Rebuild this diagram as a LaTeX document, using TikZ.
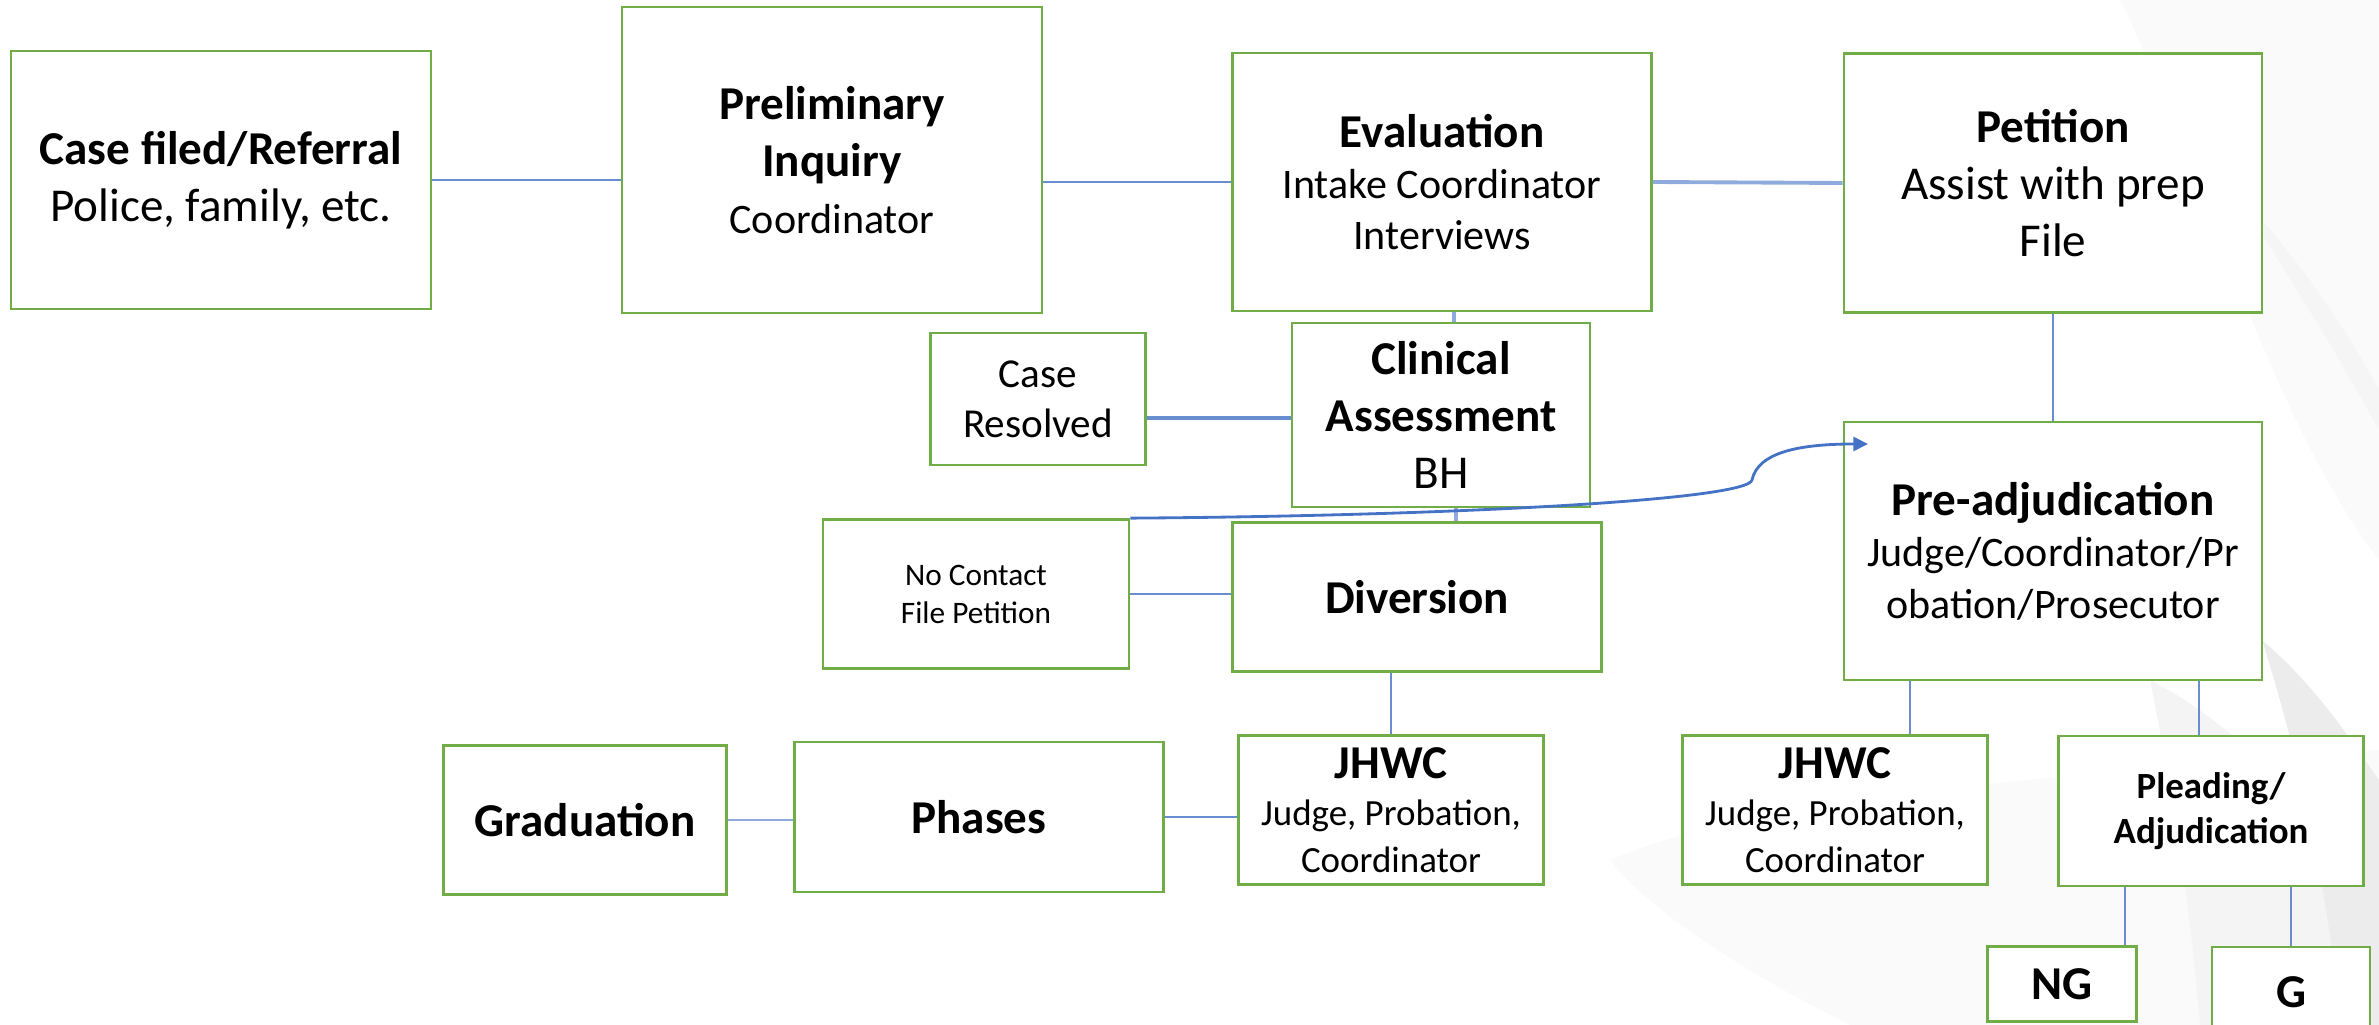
\documentclass[tikz,border=0pt]{standalone}
\usepackage{fontspec}
\setmainfont{Carlito}
\usepackage{tikz}
\usetikzlibrary{arrows.meta}
\definecolor{boxgreen}{HTML}{70AD47}
\definecolor{linkblue}{HTML}{4472C4}
\definecolor{paleblue}{HTML}{8FAADC}
\newcommand{\bigsz}{\fontsize{13.4}{16.2}\selectfont}
\newcommand{\midsz}{\fontsize{11.95}{14.6}\selectfont}
\newcommand{\smlsz}{\fontsize{10.5}{13.4}\selectfont}
\newcommand{\tinysz}{\fontsize{8.9}{10.8}\selectfont}

\begin{document}
\begin{tikzpicture}[x=0.01cm,y=-0.01cm,
  stage/.style={draw=boxgreen,line width=0.75pt,fill=white,align=center,inner sep=0pt},
  link/.style={draw=linkblue!80,line width=0.55pt},
  thicklink/.style={draw=paleblue,line width=1.1pt},
  flow/.style={draw=linkblue,line width=0.8pt,-{Triangle[length=4.2pt,width=4pt]}}]
\useasboundingbox (0,0) rectangle (2379,1025);
% faint watermark on the right
\fill[gray!4] (2120,0) .. controls (2200,160) and (2270,420) .. (2379,560) -- (2379,0) -- cycle;
\fill[gray!8] (2235,190) .. controls (2300,260) and (2340,320) .. (2379,390) -- (2379,430) .. controls (2330,340) and (2290,280) .. cycle;
\fill[gray!4] (1610,860) .. controls (1750,800) and (2000,780) .. (2379,750) -- (2379,1025) -- (1850,1025) .. controls (1720,960) and (1640,900) .. cycle;
\fill[gray!9] (2150,680) .. controls (2230,720) and (2300,800) .. (2379,860) -- (2379,1025) -- (2200,1025) .. controls (2190,900) and (2170,780) .. cycle;
\fill[gray!15] (2262,640) .. controls (2320,690) and (2350,740) .. (2379,780) -- (2379,1025) -- (2340,1025) .. controls (2330,900) and (2300,760) .. cycle;

% top row
\node[stage,minimum width=4.20cm,minimum height=2.58cm,font=\bigsz] (referral) at (221,180)
  {{\bfseries Case filed/Referral}\\ Police, family, etc.};
\node[stage,minimum width=4.20cm,minimum height=3.06cm,font=\bigsz] (prelim) at (832,160)
  {{\bfseries Preliminary}\\ {\bfseries Inquiry}\\ {\midsz Coordinator}};
\node[stage,minimum width=4.19cm,minimum height=2.58cm,font=\midsz] (evaluation) at (1442,182)
  {{\bigsz\bfseries Evaluation}\\ Intake Coordinator\\ Interviews};
\node[stage,minimum width=4.18cm,minimum height=2.59cm,font=\bigsz] (petition) at (2053,183)
  {{\bfseries Petition}\\ Assist with prep\\ File};

% middle
\node[stage,minimum width=2.98cm,minimum height=1.84cm,font=\bigsz] (clinical) at (1441,415)
  {{\bfseries Clinical}\\ {\bfseries Assessment}\\ BH};
\node[stage,minimum width=2.15cm,minimum height=1.32cm,font=\fontsize{11.7}{14.2}\selectfont] (resolved) at (1038,399)
  {Case\\ Resolved};
\node[stage,minimum width=4.18cm,minimum height=2.58cm,font=\midsz] (preadj) at (2053,551)
  {{\bigsz\bfseries Pre-adjudication}\\ Judge/Coordinator/Pr\\ obation/Prosecutor};
\node[stage,minimum width=3.06cm,minimum height=1.49cm,font=\tinysz] (nocontact) at (976,594)
  {No Contact\\ File Petition};
\node[stage,minimum width=3.69cm,minimum height=1.49cm,font=\bigsz\bfseries] (diversion) at (1417,597)
  {Diversion};

% bottom row
\node[stage,minimum width=2.83cm,minimum height=1.49cm,font=\bigsz\bfseries] (graduation) at (585,820)
  {Graduation};
\node[stage,minimum width=3.69cm,minimum height=1.50cm,font=\bigsz\bfseries] (phases) at (979,817)
  {Phases};
\node[stage,minimum width=3.05cm,minimum height=1.49cm,font=\smlsz] (jhwcdiv) at (1391,810)
  {{\bigsz\bfseries JHWC}\\ Judge, Probation,\\ Coordinator};
\node[stage,minimum width=3.05cm,minimum height=1.49cm,font=\smlsz] (jhwcadj) at (1835,810)
  {{\bigsz\bfseries JHWC}\\ Judge, Probation,\\ Coordinator};
\node[stage,minimum width=3.05cm,minimum height=1.50cm,font=\fontsize{10.5}{12.8}\selectfont\bfseries] (pleading) at (2211,811)
  {{\bfseries Pleading/}\\ {\bfseries Adjudication}};
\node[stage,minimum width=1.49cm,minimum height=0.75cm,font=\bigsz\bfseries] (notguilty) at (2062,984)
  {NG};
\node[stage,minimum width=1.58cm,minimum height=0.90cm,font=\bigsz\bfseries] (guilty) at (2291,992)
  {G};

% connectors
\draw[link] (referral.east) -- (referral.east -| prelim.west);
\draw[link] (prelim.east |- evaluation.west) -- (evaluation.west);
\draw[thicklink] (evaluation.east) -- (petition.west);
\draw[thicklink] ([xshift=0.12cm]evaluation.south) -- ([xshift=0.12cm]evaluation.south |- clinical.north);
\draw[link,line width=1pt] ([yshift=-0.19cm]resolved.east) -- ([yshift=-0.19cm]resolved.east -| clinical.west);
\draw[thicklink] ([xshift=0.15cm]clinical.south) -- ([xshift=0.15cm]clinical.south |- diversion.north);
\draw[link] (nocontact.east) -- (nocontact.east -| diversion.west);
\draw[link] (jhwcdiv.north |- diversion.south) -- (jhwcdiv.north);
\draw[link] (phases.east) -- (phases.east -| jhwcdiv.west);
\draw[thicklink,line width=0.6pt] (graduation.east) -- (graduation.east -| phases.west);
\draw[link] (petition.south) -- (preadj.north);
\draw[link] ([xshift=0.75cm]jhwcadj.north |- preadj.south) -- ([xshift=0.75cm]jhwcadj.north);
\draw[link] ([xshift=-0.12cm]pleading.north |- preadj.south) -- ([xshift=-0.12cm]pleading.north);
\draw[link] ([xshift=0.63cm]notguilty.north |- pleading.south) -- ([xshift=0.63cm]notguilty.north);
\draw[link] (guilty.north |- pleading.south) -- (guilty.north);
% no contact back to pre-adjudication
\coordinate (adjin) at (1868,444);
\draw[flow] (nocontact.north east) .. controls (1450,516) and (1748,500) .. (1752,480)
  .. controls (1758,452) and (1800,444) .. (adjin);
\end{tikzpicture}
\end{document}
